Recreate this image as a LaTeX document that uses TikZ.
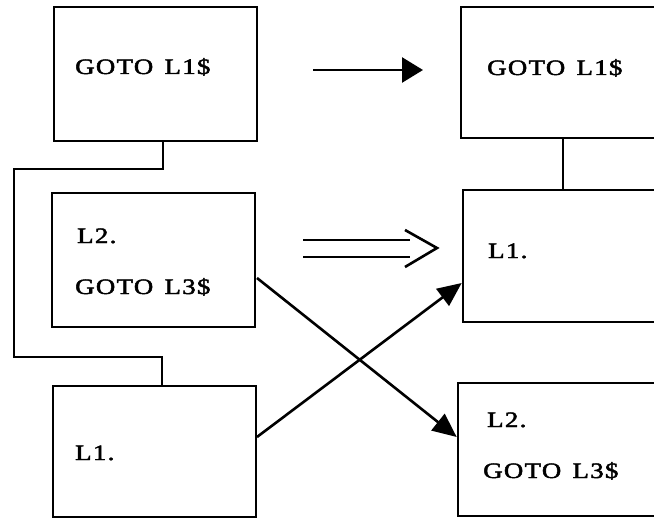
\documentclass[tikz,border=0pt]{standalone}
\usepackage{fontspec}
\usetikzlibrary{arrows.meta}
\newfontfamily\lblfont[LetterSpace=5,WordSpace=1.4,FakeBold=2]{Liberation Serif}
\newcommand{\lbltext}[1]{\scalebox{1.22}[1]{\lblfont\fontsize{22pt}{25pt}\selectfont #1}}
\tikzset{
  box/.style={draw, line width=2.6pt, inner sep=0pt, minimum width=#1},
  lbl/.style={inner sep=0pt, anchor=base west},
  conn/.style={line width=2.6pt},
  arr/.style={line width=2.6pt, -{Triangle[length=24pt,width=21pt]}},
}
\begin{document}
\begin{tikzpicture}[x=1pt,y=-1pt]
\clip (0,0) rectangle (654,519);
% boxes
\node[box=203pt, minimum height=134pt] (tl) at (155.5,74) {};
\node[box=203pt, minimum height=134pt] (ml) at (153.5,260) {};
\node[box=203pt, minimum height=131pt] (bl) at (154.5,451.5) {};
\node[box=219pt, minimum height=131pt] (tr) at (570.5,72.5) {};
\node[box=217pt, minimum height=132pt] (mr) at (571.5,256) {};
\node[box=222pt, minimum height=133pt] (br) at (569,449.5) {};
% texts
\node[lbl] (t1) at (75,74) {\lbltext{GOTO L1\$}};
\node[lbl] (t2) at (77,243) {\lbltext{L2.}};
\node[lbl] (t3) at (75,294) {\lbltext{GOTO L3\$}};
\node[lbl] (t4) at (75,460) {\lbltext{L1.}};
\node[lbl] (t5) at (487,75) {\lbltext{GOTO L1\$}};
\node[lbl] (t6) at (488,258) {\lbltext{L1.}};
\node[lbl] (t7) at (487,427) {\lbltext{L2.}};
\node[lbl] (t8) at (483,478) {\lbltext{GOTO L3\$}};
% connector tl -> bl
\coordinate (c1) at (163,169);
\coordinate (c2) at (14,357);
\coordinate (c3) at (162,357);
\draw[conn] (tl.south -| c1) -- (c1) -| (c2) -- (c3) -- (bl.north -| c3);
% connector tr -> mr
\coordinate (c4) at (563,160);
\draw[conn] (tr.south -| c4) -- (mr.north -| c4);
% single arrow
\coordinate (a1) at (313,70);
\coordinate (a2) at (423,70);
\draw[line width=2.6pt, -{Triangle[length=21pt,width=25pt]}] (a1) -- (a2);
% double arrow
\coordinate (d1) at (303,240);
\coordinate (d2) at (410,240);
\coordinate (d3) at (303,257);
\coordinate (d4) at (410,257);
\coordinate (h1) at (405,230);
\coordinate (h2) at (437,248);
\coordinate (h3) at (405,267);
\draw[conn] (d1) -- (d2);
\draw[conn] (d3) -- (d4);
\draw[conn, line join=miter] (h1) -- (h2) -- (h3);
% crossing arrows
\coordinate (s1) at (257,278);
\coordinate (s2) at (257,437);
\draw[arr] (s1) -- (br.west |- 0,437);
\draw[arr] (s2) -- (mr.west |- 0,283);
\end{tikzpicture}
\end{document}
